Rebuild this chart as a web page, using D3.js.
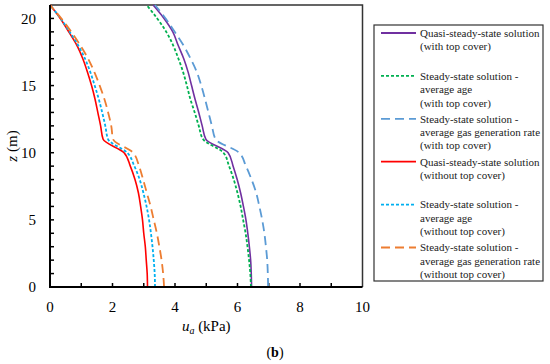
<!DOCTYPE html>
<html>
<head>
<meta charset="utf-8">
<script src="https://cdn.jsdelivr.net/npm/d3@7"></script>
<style>
  body { margin: 0; background: #fff; }
</style>
</head>
<body>
<script>
// depth z (m), read at each metre
const depths = d3.range(0, 22)

// u_a (kPa) per series, index = depth
const quasiTop    = [6.45, 6.44, 6.42, 6.38, 6.33, 6.27, 6.19, 6.10, 5.99, 5.86, 5.70, 4.99, 4.87, 4.76, 4.64, 4.53, 4.42, 4.28, 4.10, 3.93, 3.65, 3.30]
const ageTop      = [6.43, 6.41, 6.37, 6.32, 6.26, 6.18, 6.10, 6.00, 5.88, 5.73, 5.55, 4.90, 4.76, 4.63, 4.49, 4.38, 4.26, 4.11, 3.94, 3.72, 3.43, 3.09]
const rateTop     = [6.98, 6.97, 6.95, 6.91, 6.86, 6.79, 6.70, 6.60, 6.45, 6.27, 6.05, 5.30, 5.18, 5.07, 4.96, 4.84, 4.70, 4.50, 4.27, 3.99, 3.70, 3.36]
const quasiNoTop  = [3.12, 3.11, 3.08, 3.05, 3.00, 2.96, 2.90, 2.83, 2.72, 2.57, 2.37, 1.70, 1.62, 1.53, 1.44, 1.33, 1.20, 1.05, 0.86, 0.60, 0.33, 0.00]
const ageNoTop    = [3.36, 3.35, 3.32, 3.28, 3.23, 3.17, 3.09, 2.99, 2.87, 2.70, 2.47, 1.86, 1.77, 1.67, 1.56, 1.43, 1.29, 1.12, 0.90, 0.63, 0.34, 0.00]
const rateNoTop   = [3.65, 3.62, 3.57, 3.50, 3.42, 3.32, 3.22, 3.10, 2.98, 2.85, 2.66, 2.02, 1.96, 1.86, 1.74, 1.59, 1.42, 1.22, 0.97, 0.68, 0.36, 0.00]

const seriesNames = [
  ['Quasi-steady-state solution', '(with top cover)'],
  ['Steady-state solution -', 'average age', '(with top cover)'],
  ['Steady-state solution -', 'average gas generation rate', '(with top cover)'],
  ['Quasi-steady-state solution', '(without top cover)'],
  ['Steady-state solution -', 'average age', '(without top cover)'],
  ['Steady-state solution  -', 'average gas generation rate', '(without top cover)']
]
const seriesValues = [quasiTop, ageTop, rateTop, quasiNoTop, ageNoTop, rateNoTop]
const seriesColors = ['#7030a0', '#00b050', '#5b9bd5', '#ff0000', '#00b0f0', '#ed7d31']
const seriesDash   = [null, '3,2', '9,5', null, '3,2', '9,5']

const xTicks = [0, 2, 4, 6, 8, 10]
const yTicks = [0, 5, 10, 15, 20]

const W = 550, H = 364
const PLOT = { left: 50, right: 362.5, top: 5, bottom: 287 }
const FONT = '"Liberation Serif", monospace'

let svg = d3.select('body').append('svg')
  .attr('width', W)
  .attr('height', H)

let x = d3.scaleLinear().domain([0, 10]).range([PLOT.left, PLOT.right])
let y = d3.scaleLinear().domain([0, 21]).range([PLOT.bottom, PLOT.top])

// frame top + right
svg.append('path')
  .attr('d', 'M' + [PLOT.left, PLOT.top] + 'H' + PLOT.right + 'V' + PLOT.bottom)
  .attr('fill', 'none')
  .attr('stroke', '#333')
  .attr('stroke-width', 1.5)

// minor ticks (inward)
let g = svg.append('g')
g.selectAll('.xt').data(d3.range(1, 10)).enter().append('line')
  .attr('x1', (d) => x(d)).attr('x2', (d) => x(d))
  .attr('y1', PLOT.bottom).attr('y2', PLOT.bottom - 4)
  .attr('stroke', '#000').attr('stroke-width', 1.5)
g.selectAll('.yt').data(d3.range(1, 21)).enter().append('line')
  .attr('y1', (d) => y(d)).attr('y2', (d) => y(d))
  .attr('x1', PLOT.left).attr('x2', PLOT.left + 4)
  .attr('stroke', '#000').attr('stroke-width', 1.5)

// series
let line = d3.line()
  .x((d) => x(d[0]))
  .y((d) => y(d[1]))
  .curve(d3.curveMonotoneY)

seriesValues.forEach((vals, i) => {
  svg.append('path')
    .datum(vals.map((v, k) => [v, depths[k]]))
    .attr('d', line)
    .attr('fill', 'none')
    .attr('stroke', seriesColors[i])
    .attr('stroke-width', seriesDash[i] ? 1.8 : 1.6)
    .attr('stroke-dasharray', seriesDash[i])
})

// axes lines
svg.append('path')
  .attr('d', 'M' + [PLOT.left, PLOT.top] + 'V' + PLOT.bottom + 'H' + PLOT.right)
  .attr('fill', 'none')
  .attr('stroke', '#000')
  .attr('stroke-width', 2)

// all text in one serif face
function serif(sel, size) {
  return sel.style('font-family', FONT).style('font-size', size + 'px')
}

// tick labels
svg.selectAll('.xl').data(xTicks).enter().append('text')
  .attr('x', (d) => x(d))
  .attr('y', 312)
  .attr('text-anchor', 'middle')
  .call(serif, 15)
  .text((d) => d)
svg.selectAll('.yl').data(yTicks).enter().append('text')
  .attr('x', 36)
  .attr('y', (d) => y(d))
  .attr('dy', '.35em')
  .attr('text-anchor', 'end')
  .call(serif, 15)
  .text((d) => d)

// axis titles
let xt = svg.append('text')
  .attr('x', (PLOT.left + PLOT.right) / 2)
  .attr('y', 331)
  .attr('text-anchor', 'middle')
  .call(serif, 15)
xt.append('tspan').style('font-style', 'italic').text('u')
xt.append('tspan').style('font-style', 'italic').style('font-size', '10px').attr('dy', 3).text('a')
xt.append('tspan').attr('dy', -3).text(' (kPa)')

let yt = svg.append('text')
  .attr('transform', 'translate(17,' + ((PLOT.top + PLOT.bottom) / 2) + ') rotate(-90)')
  .attr('text-anchor', 'middle')
  .call(serif, 15)
yt.append('tspan').style('font-style', 'italic').text('z')
yt.append('tspan').text(' (m)')

let cap = svg.append('text')
  .attr('x', W / 2)
  .attr('y', 357)
  .attr('text-anchor', 'middle')
  .call(serif, 14)
cap.append('tspan').text('(')
cap.append('tspan').style('font-weight', 'bold').text('b')
cap.append('tspan').text(')')

// legend
let legend = svg.append('g')
legend.append('rect')
  .attr('x', 374).attr('y', 25)
  .attr('width', 169).attr('height', 256)
  .attr('fill', '#fff')
  .attr('stroke', '#333')
  .attr('stroke-width', 1.2)

seriesNames.forEach((lines, i) => {
  let ly = 33 + i * 42.9
  legend.append('line')
    .attr('x1', 381).attr('x2', 416)
    .attr('y1', ly).attr('y2', ly)
    .attr('stroke', seriesColors[i])
    .attr('stroke-width', 1.8)
    .attr('stroke-dasharray', seriesDash[i])
  legend.append('g').selectAll('text').data(lines).enter().append('text')
    .attr('x', 420)
    .attr('y', (d, k) => ly + k * 13.4)
    .attr('dy', '.35em')
    .call(serif, 11)
    .attr('fill', '#222')
    .text((d) => d)
})
</script>
</body>
</html>
